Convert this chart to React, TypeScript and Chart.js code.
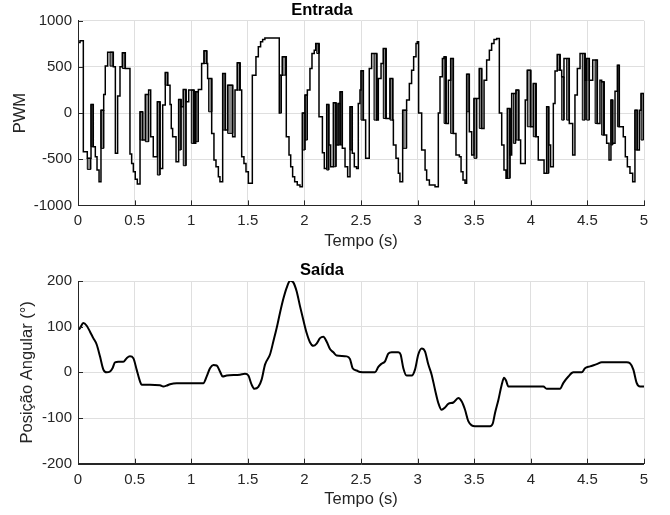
import React, { useEffect, useRef } from 'react';
import { Chart, registerables } from 'chart.js';

Chart.register(...registerables);

const FONT = '"Liberation Sans", Arial, Helvetica, sans-serif';
const AXIS_COLOR = '#262626';
const GRID_COLOR = '#dfdfdf';

const topTitle = 'Entrada';
const bottomTitle = 'Saída';
const xLabel = 'Tempo (s)';
const topYLabel = 'PWM';
const bottomYLabel = 'Posição Angular (°)';

const timeTicks = [0, 0.5, 1, 1.5, 2, 2.5, 3, 3.5, 4, 4.5, 5];
const pwmTicks = [-1000, -500, 0, 500, 1000];
const angleTicks = [-200, -100, 0, 100, 200];

// PWM input: step breakpoints (value holds until next time)
const pwmTime = [0, 0.018, 0.047, 0.135, 0.153, 0.168, 0.186, 0.227, 0.241, 0.262, 0.312, 0.33, 0.35, 0.371, 0.418, 0.459, 0.474, 0.489, 0.506, 0.524, 0.571, 0.624, 0.642, 0.665, 0.724, 0.748, 0.792, 0.813, 0.824, 0.836, 0.866, 0.91, 0.954, 0.978, 1.025, 1.063, 1.092, 1.137, 1.145, 1.181, 1.201, 1.219, 1.24, 1.254, 1.302, 1.366, 1.387, 1.431, 1.446, 1.466, 1.484, 1.505, 1.54, 1.572, 1.593, 1.613, 1.631, 1.651, 1.778, 1.797, 1.84, 1.864, 1.879, 1.896, 1.914, 1.937, 1.961, 2.026, 2.049, 2.067, 2.087, 2.1, 2.129, 2.159, 2.176, 2.215, 2.232, 2.279, 2.335, 2.359, 2.382, 2.423, 2.441, 2.461, 2.476, 2.491, 2.521, 2.541, 2.573, 2.594, 2.639, 2.653, 2.677, 2.721, 2.78, 2.786, 2.809, 2.83, 2.844, 2.903, 2.927, 2.947, 2.965, 2.986, 2.997, 3.009, 3.036, 3.066, 3.08, 3.104, 3.154, 3.183, 3.198, 3.219, 3.251, 3.272, 3.316, 3.339, 3.369, 3.384, 3.401, 3.419, 3.457, 3.478, 3.522, 3.566, 3.587, 3.61, 3.634, 3.654, 3.675, 3.699, 3.722, 3.743, 3.763, 3.781, 3.816, 3.831, 3.893, 3.91, 3.951, 3.999, 4.046, 4.066, 4.117, 4.158, 4.175, 4.199, 4.214, 4.258, 4.293, 4.34, 4.37, 4.39, 4.411, 4.435, 4.479, 4.517, 4.547, 4.588, 4.611, 4.647, 4.67, 4.691, 4.723, 4.744, 4.782, 4.817, 4.835, 4.853, 4.876, 4.9, 4.941, 4.959, 5.0];
const pwmValue = [765, 783, -418, -364, -472, -617, -743, 202, 509, 660, 501, -436, 184, 501, 483, -444, -545, -635, -718, -768, -292, 249, -256, -472, -599, 87, 303, 94, -166, -256, -527, 69, 123, 249, -328, 256, 537, 537, 375, -220, -509, -581, -689, -743, -184, -256, 249, 249, -472, -545, -635, -761, 411, 610, 718, 772, 797, 815, 0, 411, -256, -454, -581, -689, -743, -779, -797, 249, 483, 646, 682, 754, -40, -429, -599, -346, -581, -346, -382, -581, -689, -436, -581, -599, 105, 249, -76, -490, 483, 646, -76, 375, 537, -58, -76, -346, -490, -653, -743, 141, 321, 465, 610, 754, 772, 0, -400, -617, -725, -779, -797, 0, 393, 592, -112, 357, -220, -454, -472, -635, -725, -761, -202, -454, 159, -166, 357, 574, 682, 754, 797, 808, 0, -346, -617, -707, -454, 213, -292, -545, 141, -148, -256, -509, -653, -346, -581, 105, 455, 465, 592, -112, -454, 195, 483, 646, 357, 357, 574, -112, 357, -238, -328, -509, -328, 238, -148, -256, -472, -581, -653, -743, -400, 32, 213];

// Fast switching bursts in the PWM signal (start, end, high level, low level)
const burstStart = [0.082, 0.115, 0.203, 0.283, 0.392, 0.548, 0.595, 0.701, 0.771, 0.889, 0.93, 1.001, 1.04, 1.113, 1.154, 1.278, 1.322, 1.407, 1.781, 1.805, 1.982, 2.005, 2.109, 2.197, 2.256, 2.297, 2.315, 2.403, 2.5, 2.615, 2.697, 2.756, 2.868, 3.234, 3.292, 3.433, 3.498, 3.545, 3.793, 3.846, 3.869, 3.969, 4.022, 4.14, 4.234, 4.273, 4.317, 4.455, 4.493, 4.568, 4.626, 4.708, 4.765, 4.92, 4.974];
const burstEnd = [0.112, 0.135, 0.227, 0.312, 0.418, 0.571, 0.624, 0.724, 0.792, 0.91, 0.954, 1.025, 1.063, 1.137, 1.181, 1.302, 1.366, 1.431, 1.797, 1.837, 2.005, 2.026, 2.129, 2.215, 2.279, 2.315, 2.335, 2.423, 2.521, 2.639, 2.721, 2.78, 2.903, 3.251, 3.316, 3.457, 3.522, 3.566, 3.816, 3.866, 3.893, 3.999, 4.046, 4.158, 4.258, 4.293, 4.34, 4.479, 4.517, 4.588, 4.647, 4.723, 4.782, 4.941, 4.995];
const burstHigh = [-490, 94, 32, 660, 653, 14, 202, 123, 440, 148, 256, 249, 231, 675, 375, 429, 303, 545, 411, 610, 0, 195, 754, 94, 112, 105, 231, 69, 458, 646, 700, 375, 32, 610, 592, 422, 159, 483, 50, 213, 249, 465, 321, 69, 635, 393, 592, 646, 592, 574, 339, 141, 519, 32, 213];
const burstLow = [-610, -364, -382, 509, 483, -292, -310, -671, 303, -400, -570, -328, -310, 537, 14, -184, -220, 249, 0, 411, -400, -292, 646, -617, -581, -346, -346, -400, -76, -76, -58, -76, -382, -112, -220, 14, -490, -166, -707, -328, -292, -148, -256, -653, 465, -76, -76, -76, -76, -112, -238, -346, -148, -400, -292];

// Angular position output
const outTime = [0, 0.018, 0.047, 0.077, 0.106, 0.135, 0.165, 0.194, 0.224, 0.253, 0.283, 0.306, 0.327, 0.356, 0.4, 0.43, 0.459, 0.489, 0.518, 0.548, 0.562, 0.636, 0.724, 0.754, 0.783, 0.813, 0.872, 1.107, 1.137, 1.166, 1.196, 1.225, 1.254, 1.278, 1.313, 1.431, 1.475, 1.505, 1.534, 1.558, 1.593, 1.622, 1.652, 1.696, 1.726, 1.755, 1.784, 1.814, 1.843, 1.873, 1.902, 1.932, 1.961, 1.99, 2.02, 2.049, 2.079, 2.108, 2.138, 2.167, 2.197, 2.226, 2.256, 2.285, 2.373, 2.403, 2.426, 2.462, 2.491, 2.624, 2.653, 2.682, 2.712, 2.741, 2.771, 2.83, 2.85, 2.874, 2.903, 2.948, 2.977, 3.006, 3.036, 3.065, 3.095, 3.124, 3.154, 3.183, 3.212, 3.242, 3.271, 3.316, 3.36, 3.39, 3.419, 3.448, 3.478, 3.507, 3.64, 3.664, 3.684, 3.714, 3.743, 3.764, 3.781, 3.802, 4.111, 4.14, 4.258, 4.288, 4.332, 4.376, 4.45, 4.479, 4.523, 4.582, 4.627, 4.847, 4.876, 4.906, 4.935, 4.965, 5.0];
const outValue = [93, 97, 108, 102, 89, 75, 61, 35, 6, 0, 2, 9.5, 22, 23, 23, 31, 35, 31, 6, -20, -27, -27, -28, -31, -29, -26, -24, -24, -9, 9, 16, 15, 2, -9, -7, -5, -3, -7, -27, -36, -32, -16, 17, 39, 68, 97, 130, 161, 185, 201, 197, 177, 145, 115, 86, 66, 58, 63, 75, 78, 67, 51, 44, 37, 35, 29, 9, 4, 1, 0, 12, 19, 24, 41, 44, 44, 39, 9, -7, -7, 6, 39, 52, 46, 17, -5, -38, -67, -82, -77, -69, -66, -56, -64, -82, -107, -116, -118, -118, -112, -89, -60, -27, -12, -18, -31, -31, -36, -36, -23, -9, 0, 0, 9, 13, 18, 22, 22, 20, 6, -23, -31, -31];

const inwardTicks = {
  id: 'inwardTicks',
  afterDatasetsDraw(chart: any) {
    const { ctx, chartArea: a, scales } = chart;
    const x = scales.x;
    const y = scales.y;
    ctx.save();
    ctx.strokeStyle = AXIS_COLOR;
    ctx.lineWidth = 1;
    ctx.beginPath();
    x.ticks.forEach((t: any) => {
      const px = Math.round(x.getPixelForValue(t.value)) + 0.5;
      ctx.moveTo(px, a.bottom);
      ctx.lineTo(px, a.bottom - 5);
    });
    y.ticks.forEach((t: any) => {
      const py = Math.round(y.getPixelForValue(t.value)) + 0.5;
      ctx.moveTo(a.left, py);
      ctx.lineTo(a.left + 5, py);
    });
    ctx.stroke();
    ctx.beginPath();
    ctx.moveTo(Math.round(a.left) + 0.5, a.top);
    ctx.lineTo(Math.round(a.left) + 0.5, Math.round(a.bottom) + 0.5);
    ctx.lineTo(a.right, Math.round(a.bottom) + 0.5);
    ctx.stroke();
    ctx.restore();
  },
};

type Opts = {
  title: string;
  titlePadTop: number;
  titlePadBottom: number;
  yTicks: number[];
  yTitle: string;
  yTitlePad: number;
  xHeight: number;
  xTitlePadBottom: number;
};

function buildOptions(p: Opts): any {
  return {
    responsive: false,
    animation: false,
    events: [],
    layout: { padding: { left: 0, right: 26, top: 0, bottom: 0 } },
    plugins: {
      legend: { display: false },
      tooltip: { enabled: false },
      title: {
        display: true,
        text: p.title,
        color: '#000000',
        font: { family: FONT, size: 16.5, weight: 'bold' },
        padding: { top: p.titlePadTop, bottom: p.titlePadBottom },
      },
    },
    scales: {
      x: {
        type: 'linear',
        min: timeTicks[0],
        max: timeTicks[timeTicks.length - 1],
        afterBuildTicks: (s: any) => {
          s.ticks = timeTicks.map((v) => ({ value: v }));
        },
        afterFit: (s: any) => {
          s.height = p.xHeight;
        },
        ticks: {
          color: AXIS_COLOR,
          font: { family: FONT, size: 15 },
          padding: 6.7,
          maxRotation: 0,
          autoSkip: false,
          callback: (v: any) => String(v),
        },
        grid: { color: GRID_COLOR, drawTicks: false, lineWidth: 1 },
        border: { color: AXIS_COLOR, width: 1 },
        title: {
          display: true,
          text: xLabel,
          color: AXIS_COLOR,
          font: { family: FONT, size: 16.5 },
          padding: { top: 0, bottom: p.xTitlePadBottom },
        },
      },
      y: {
        type: 'linear',
        min: p.yTicks[0],
        max: p.yTicks[p.yTicks.length - 1],
        afterBuildTicks: (s: any) => {
          s.ticks = p.yTicks.map((v) => ({ value: v }));
        },
        afterFit: (s: any) => {
          s.width = 78;
        },
        ticks: {
          color: AXIS_COLOR,
          font: { family: FONT, size: 15 },
          padding: 6,
          autoSkip: false,
          callback: (v: any) => String(v),
        },
        grid: { color: GRID_COLOR, drawTicks: false, lineWidth: 1 },
        border: { color: AXIS_COLOR, width: 1 },
        title: {
          display: true,
          text: p.yTitle,
          color: AXIS_COLOR,
          font: { family: FONT, size: 16.5 },
          padding: { top: p.yTitlePad, bottom: 0 },
        },
      },
    },
  };
}

function topConfig(): any {
  const steps = pwmTime.map((t, i) => ({ x: t, y: pwmValue[i] }));
  burstStart.forEach((t, i) => steps.push({ x: t, y: burstHigh[i] }));
  steps.sort((a, b) => a.x - b.x);
  const burstSets = burstStart.map((t, i) => ({
    data: [
      { x: t, y: burstLow[i] },
      { x: t, y: burstHigh[i] },
      { x: burstEnd[i], y: burstHigh[i] },
      { x: burstEnd[i], y: burstLow[i] },
      { x: t, y: burstLow[i] },
    ],
    borderColor: '#000000',
    borderWidth: 1,
    backgroundColor: '#8a8a8a',
    fill: 'shape',
    pointRadius: 0,
    tension: 0,
  }));
  return {
    type: 'line',
    data: {
      datasets: [
        {
          data: steps,
          borderColor: '#000000',
          borderWidth: 1.5,
          stepped: true,
          pointRadius: 0,
          fill: false,
        },
        ...burstSets,
      ],
    },
    options: buildOptions({
      title: topTitle,
      titlePadTop: 1,
      titlePadBottom: 0,
      yTicks: pwmTicks,
      yTitle: topYLabel,
      yTitlePad: 11,
      xHeight: 52.6,
      xTitlePadBottom: 7.1,
    }),
    plugins: [inwardTicks],
  };
}

function bottomConfig(): any {
  return {
    type: 'line',
    data: {
      datasets: [
        {
          data: outTime.map((t, i) => ({ x: t, y: outValue[i] })),
          borderColor: '#000000',
          borderWidth: 2,
          cubicInterpolationMode: 'monotone',
          pointRadius: 0,
          fill: false,
        },
      ],
    },
    options: buildOptions({
      title: bottomTitle,
      titlePadTop: 2.3,
      titlePadBottom: 0.9,
      yTicks: angleTicks,
      yTitle: bottomYLabel,
      yTitlePad: 17.6,
      xHeight: 51.3,
      xTitlePadBottom: 5.8,
    }),
    plugins: [inwardTicks],
  };
}

function ChartCanvas({ make, top, height }: { make: () => any; top: number; height: number }) {
  const ref = useRef<HTMLCanvasElement | null>(null);
  useEffect(() => {
    if (!ref.current) return;
    const chart = new Chart(ref.current, make());
    return () => chart.destroy();
  }, []);
  return (
    <canvas
      ref={ref}
      width={670}
      height={height}
      style={{ position: 'absolute', left: 0, top, width: 670, height, display: 'block' }}
    />
  );
}

export default function App() {
  return (
    <div style={{ position: 'absolute', left: 0, top: 0, width: 670, height: 515, background: '#ffffff' }}>
      <ChartCanvas make={topConfig} top={0} height={258} />
      <ChartCanvas make={bottomConfig} top={258} height={257} />
    </div>
  );
}
